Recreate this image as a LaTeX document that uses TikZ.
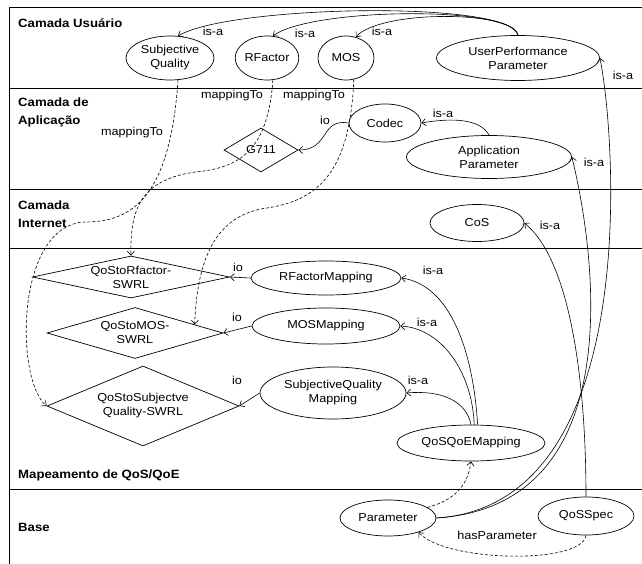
\documentclass[tikz,border=0pt]{standalone}
\usepackage{fontspec}
\setmainfont{Liberation Sans}[FakeStretch=1.1]
\usetikzlibrary{shapes.geometric,arrows.meta}
\begin{document}
\begin{tikzpicture}[
  cls/.style={ellipse, draw, line width=0.7pt, inner sep=0pt, align=center, font=\fontsize{11.5}{14}\selectfont},
  rule/.style={diamond, draw, line width=0.7pt, inner sep=0pt},
  rtxt/.style={align=center, font=\fontsize{11.5}{14}\selectfont},
  lyr/.style={anchor=west, align=left, inner sep=0pt, font=\bfseries\fontsize{12}{18}\selectfont},
  lbl/.style={inner sep=0pt, font=\fontsize{11.5}{14}\selectfont},
  isa/.style={-{Straight Barb[length=4pt,width=7pt]}, line width=0.6pt},
  dep/.style={isa, dash pattern=on 3pt off 2pt},
  frame/.style={line width=0.9pt}
]
\useasboundingbox (0pt,0pt) rectangle (642pt,-564pt);
\draw[frame] (9pt,-564pt) -- (9pt,-7pt) -- (642pt,-7pt);
\draw[frame] (9pt,-88pt) -- (642pt,-88pt);
\draw[frame] (9pt,-189pt) -- (642pt,-189pt);
\draw[frame] (9pt,-248pt) -- (642pt,-248pt);
\draw[frame] (9pt,-489pt) -- (642pt,-489pt);
\node[lyr] (lusr) at (18pt,-23pt) {Camada Usuário};
\node[lyr] (lapp) at (18pt,-112pt) {Camada de\\Aplicação};
\node[lyr] (lnet) at (18pt,-214pt) {Camada\\Internet};
\node[lyr] (lmap) at (18pt,-475pt) {Mapeamento de QoS/QoE};
\node[lyr] (lbase) at (18pt,-527pt) {Base};
\node[cls, minimum width=88pt, minimum height=44pt] (sq) at (170pt,-58pt) {Subjective\\Quality};
\node[cls, minimum width=60pt, minimum height=44pt] (rf) at (267pt,-58pt) {RFactor};
\node[cls, minimum width=56pt, minimum height=44pt] (mos) at (346pt,-58pt) {MOS};
\node[cls, minimum width=163pt, minimum height=45pt] (upp) at (518pt,-58pt) {UserPerformance\\Parameter};
\node[cls, minimum width=72pt, minimum height=38pt] (codec) at (385pt,-123pt) {Codec};
\node[cls, minimum width=165pt, minimum height=43pt] (appar) at (489pt,-157pt) {Application\\Parameter};
\node[rule, minimum width=74pt, minimum height=44pt, label={[rtxt]center:G711}] (g711) at (261pt,-150pt) {};
\node[cls, minimum width=94pt, minimum height=37pt] (cos) at (477pt,-223pt) {CoS};
\node[rule, minimum width=197pt, minimum height=42pt, label={[rtxt]center:QoStoRfactor-\\SWRL}] (qrf) at (131pt,-277pt) {};
\node[rule, minimum width=176pt, minimum height=51pt, label={[rtxt]center:QoStoMOS-\\SWRL}] (qmos) at (135pt,-333pt) {};
\node[rule, minimum width=192pt, minimum height=80pt, label={[rtxt]center:QoStoSubjectve\\Quality-SWRL}] (qsubj) at (143pt,-406pt) {};
\node[cls, minimum width=150pt, minimum height=34pt] (rfm) at (326pt,-278pt) {RFactorMapping};
\node[cls, minimum width=148pt, minimum height=36pt] (mosm) at (326pt,-326pt) {MOSMapping};
\node[cls, minimum width=146pt, minimum height=52pt] (sqm) at (333pt,-393pt) {SubjectiveQuality\\Mapping};
\node[cls, minimum width=148pt, minimum height=36pt] (qqm) at (471pt,-443pt) {QoSQoEMapping};
\node[cls, minimum width=96pt, minimum height=36pt] (par) at (388pt,-518pt) {Parameter};
\node[cls, minimum width=96pt, minimum height=38pt] (qspec) at (586pt,-516pt) {QoSSpec};
\draw[isa] (upp.north) .. controls (512pt,0pt) and (230pt,-5pt) .. (sq.70);
\draw[isa] (upp.north) .. controls (512pt,-5pt) and (310pt,-8pt) .. (rf.75);
\draw[isa] (upp.north) .. controls (512pt,-10pt) and (380pt,-10pt) .. (mos.65);
\draw[isa] (par.east) .. controls (645pt,-505pt) and (615pt,-130pt) .. (upp.east);
\draw[isa] (par.east) .. controls (640pt,-505pt) and (590pt,-230pt) .. (appar.east);
\draw[isa] (qspec.north) .. controls (586pt,-380pt) and (570pt,-260pt) .. (cos.east);
\draw[isa] (appar.north) .. controls (480pt,-118pt) and (450pt,-118pt) .. (codec.east);
\draw[isa] (qqm.70) .. controls (473pt,-350pt) and (450pt,-285pt) .. (rfm.east);
\draw[isa] (qqm.80) .. controls (472pt,-370pt) and (440pt,-328pt) .. (mosm.east);
\draw[isa] (qqm.north) .. controls (466pt,-400pt) and (440pt,-390pt) .. (sqm.east);
\draw[isa] (codec.west) .. controls (320pt,-118pt) and (330pt,-150pt) .. (g711.east);
\draw[isa] (rfm.west) -- (qrf.east);
\draw[isa] (mosm.west) -- (qmos.east);
\draw[isa] (sqm.west) -- (qsubj.east);
\draw[dep] (par.15) .. controls (455pt,-500pt) and (468pt,-485pt) .. (qqm.south);
\draw[dep] (qspec.south) .. controls (582pt,-565pt) and (445pt,-562pt) .. (par.-25);
\draw[dep] (sq.-70) .. controls (170pt,-200pt) and (130pt,-222pt) .. (85pt,-222pt) .. controls (15pt,-225pt) and (15pt,-380pt) .. (qsubj.west);
\draw[dep] (rf.-75) .. controls (268pt,-150pt) and (240pt,-168pt) .. (195pt,-172pt) .. controls (140pt,-180pt) and (130pt,-210pt) .. (qrf.north);
\draw[dep] (mos.-70) .. controls (350pt,-170pt) and (320pt,-200pt) .. (267pt,-208pt) .. controls (215pt,-215pt) and (197pt,-260pt) .. (qmos.8);
\node[lbl] (isa1) at (213pt,-31pt) {is-a};
\node[lbl] (isa2) at (305pt,-33pt) {is-a};
\node[lbl] (isa3) at (382pt,-31pt) {is-a};
\node[lbl] (isa4) at (623pt,-75pt) {is-a};
\node[lbl] (isa5) at (443pt,-113pt) {is-a};
\node[lbl] (isa6) at (594pt,-162pt) {is-a};
\node[lbl] (isa7) at (550pt,-225pt) {is-a};
\node[lbl] (isa8) at (433pt,-270pt) {is-a};
\node[lbl] (isa9) at (427pt,-322pt) {is-a};
\node[lbl] (isa10) at (418pt,-380pt) {is-a};
\node[lbl] (io1) at (325pt,-120pt) {io};
\node[lbl] (io2) at (238pt,-267pt) {io};
\node[lbl] (io3) at (237pt,-317pt) {io};
\node[lbl] (io4) at (237pt,-380pt) {io};
\node[lbl] (map1) at (132pt,-133pt) {mappingTo};
\node[lbl] (map2) at (232pt,-96pt) {mappingTo};
\node[lbl] (map3) at (314pt,-96pt) {mappingTo};
\node[lbl] (haspar) at (497pt,-535pt) {hasParameter};
\end{tikzpicture}
\end{document}
